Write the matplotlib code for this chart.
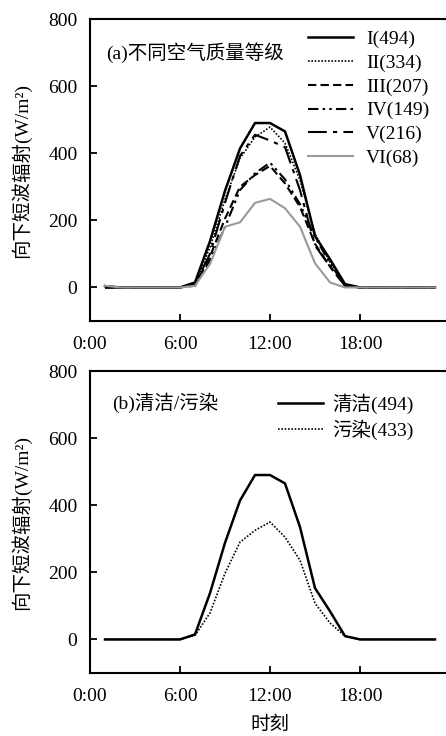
import matplotlib
matplotlib.use('Agg')
import matplotlib.pyplot as plt

plt.rcParams['font.family'] = ['Liberation Serif', 'Noto Sans CJK SC']

hours = list(range(1, 24))

# panel (a): air quality grades
grade_labels = ['I(494)', 'II(334)', 'III(207)', 'IV(149)', 'V(216)', 'VI(68)']
grade_1 = [4, 0, 0, 0, 0, 0, 15, 138, 288, 414, 490, 490, 465, 335, 153, 84, 10, 0, 0, 0, 0, 0, 0]
grade_2 = [0, 0, 0, 0, 0, 0, 10, 120, 262, 385, 448, 478, 430, 320, 160, 75, 8, 0, 0, 0, 0, 0, 0]
grade_3 = [0, 0, 0, 0, 0, 0, 8, 92, 205, 300, 335, 362, 310, 240, 130, 62, 5, 0, 0, 0, 0, 0, 0]
grade_4 = [0, 0, 0, 0, 0, 0, 5, 80, 180, 290, 340, 372, 322, 248, 150, 72, 5, 0, 0, 0, 0, 0, 0]
grade_5 = [0, 0, 0, 0, 0, 0, 10, 100, 252, 392, 455, 438, 418, 290, 125, 62, 5, 0, 0, 0, 0, 0, 0]
grade_6 = [5, 0, 0, 0, 0, 0, 5, 70, 181, 194, 252, 264, 236, 181, 72, 15, 0, 0, 0, 0, 0, 0, 0]

# panel (b): clean vs polluted
clean_labels = ['清洁(494)', '污染(433)']
clean = [0, 0, 0, 0, 0, 0, 15, 138, 288, 414, 490, 490, 465, 335, 153, 84, 10, 0, 0, 0, 0, 0, 0]
polluted = [0, 0, 0, 0, 0, 0, 12, 79, 197, 290, 325, 350, 305, 236, 108, 49, 10, 0, 0, 0, 0, 0, 0]

xticks = [0, 6, 12, 18]
xticklabels = ['0:00', '6:00', '12:00', '18:00']
yticks = [0, 200, 400, 600, 800]

fs = 14
ylab = '向下短波辐射(W/m²)'

fig = plt.figure(figsize=(4.46, 7.36), dpi=100)
ax1 = fig.add_axes([90 / 446, 1 - 321 / 736, 360 / 446, 302 / 736])
ax2 = fig.add_axes([90 / 446, 1 - 673 / 736, 360 / 446, 302 / 736])

styles = [
    dict(color='black', lw=1.8, ls='-'),
    dict(color='black', lw=1.2, ls=(0, (1, 1))),
    dict(color='black', lw=1.5, ls=(0, (4, 2))),
    dict(color='black', lw=1.5, ls=(0, (5, 2, 1.2, 2, 1.2, 2))),
    dict(color='black', lw=1.5, ls=(0, (9, 3, 2, 3))),
    dict(color='#9a9a9a', lw=1.5, ls='-'),
]
series = [grade_1, grade_2, grade_3, grade_4, grade_5, grade_6]
for vals, lab, st in zip(series, grade_labels, styles):
    ax1.plot(hours, vals, label=lab, **st)

ax2.plot(hours, clean, label=clean_labels[0], **styles[0])
ax2.plot(hours, polluted, label=clean_labels[1], **styles[1])

for ax in (ax1, ax2):
    ax.set_xlim(0, 24)
    ax.set_ylim(-100, 800)
    ax.set_xticks(xticks)
    ax.set_xticklabels(xticklabels)
    ax.set_yticks(yticks)
    ax.tick_params(direction='in', length=5, width=1.3, labelsize=fs)
    ax.tick_params(axis='x', pad=11)
    ax.tick_params(axis='y', pad=9)
    for sp in ax.spines.values():
        sp.set_linewidth(1.5)
    ax.set_ylabel(ylab, fontsize=fs, labelpad=12)

ax1.text(1.1, 700, '(a)不同空气质量等级', fontsize=fs, va='center')
ax2.text(1.5, 704, '(b)清洁/污染', fontsize=fs, va='center')
ax2.set_xlabel('时刻', fontsize=fs, labelpad=8)

ax1.legend(loc='upper left', bbox_to_anchor=(0.573, 1.0), frameon=False, fontsize=fs,
           handlelength=2.3, handletextpad=0.7, labelspacing=0.31, borderaxespad=0.2)
ax2.legend(loc='upper left', bbox_to_anchor=(0.49, 0.965), frameon=False, fontsize=fs,
           handlelength=2.3, handletextpad=0.5, labelspacing=0.31, borderaxespad=0.2)

fig.savefig('out.png', dpi=100)
